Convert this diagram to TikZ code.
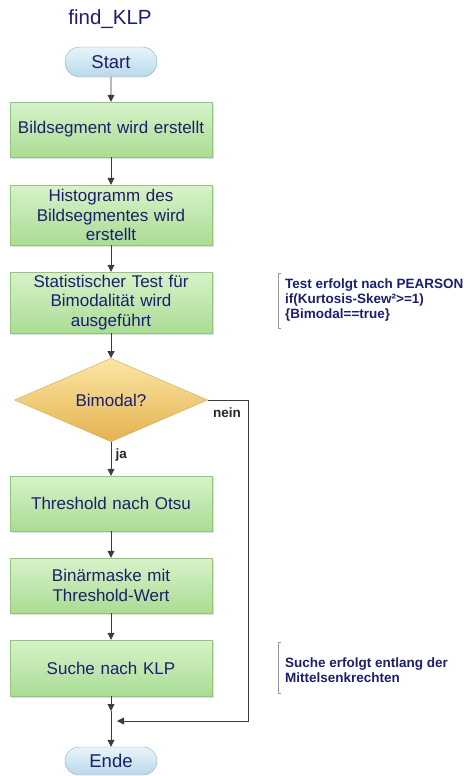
\documentclass[tikz,border=0pt]{standalone}
\usepackage{fontspec}
\setmainfont{Liberation Sans}
\usetikzlibrary{shapes.geometric,shapes.misc,arrows.meta,shadows}
\definecolor{txt}{RGB}{28,30,110}
\definecolor{boxtop}{RGB}{216,242,202}
\definecolor{boxbot}{RGB}{170,220,148}
\definecolor{boxline}{RGB}{145,198,125}
\definecolor{dectop}{RGB}{252,230,165}
\definecolor{decbot}{RGB}{228,178,80}
\definecolor{decline}{RGB}{205,165,80}
\definecolor{termtop}{RGB}{232,245,250}
\definecolor{termbot}{RGB}{185,216,232}
\definecolor{termline}{RGB}{140,170,190}
\definecolor{flow}{RGB}{60,60,60}
\definecolor{brk}{RGB}{150,150,165}
\tikzset{
  procbox/.style={rectangle, draw=boxline, top color=boxtop, bottom color=boxbot,
    minimum width=202pt, text width=196pt, align=center, text=txt,
    font=\fontsize{17}{19.5}\selectfont, inner sep=0pt,
    drop shadow={shadow xshift=1.5pt, shadow yshift=-1.5pt, opacity=0.25}},
  decbox/.style={diamond, draw=decline, top color=dectop, bottom color=decbot,
    minimum width=193pt, minimum height=80pt, inner sep=0pt, text=txt,
    font=\fontsize{17}{19.5}\selectfont},
  termbox/.style={rounded rectangle, draw=termline, top color=termtop, bottom color=termbot,
    minimum width=92pt, inner sep=0pt, text=txt, font=\fontsize{18.5}{21}\selectfont},
  flowline/.style={draw=flow, line width=0.8pt},
  arr/.style={flowline, -{Triangle[width=7pt,length=7pt]}},
  edgelabel/.style={font=\bfseries\fontsize{13.5}{15}\selectfont, text=black!85},
  note/.style={font=\bfseries\fontsize{13.5}{15}\selectfont, text=txt, align=left,
    anchor=north west, inner sep=0pt},
  bracket/.style={draw=brk, line width=0.6pt}
}
\begin{document}
\begin{tikzpicture}[x=1pt,y=-1pt]
\useasboundingbox (0,0) rectangle (470,776);

% title
\node[text=txt, font=\fontsize{20.5}{24}\selectfont] (title) at (110,19) {find\_KLP};

% flow nodes
\node[termbox, minimum height=30pt] (start) at (111,62) {Start};
\node[procbox, minimum height=55pt] (b1) at (111,129.5) {Bildsegment wird erstellt};
\node[procbox, minimum height=60pt] (b2) at (111,215) {Histogramm des\\Bildsegmentes wird\\erstellt};
\node[procbox, minimum height=61pt] (b3) at (111,302.5) {Statistischer Test für\\Bimodalität wird\\ausgeführt};
\node[decbox] (dec) at (111,400) {Bimodal?};
\node[procbox, minimum height=55pt] (b4) at (111,503.5) {Threshold nach Otsu};
\node[procbox, minimum height=55pt] (b5) at (111,585.5) {Binärmaske mit\\Threshold-Wert};
\node[procbox, minimum height=56pt] (b6) at (111,668) {Suche nach KLP};
\node[termbox, minimum height=28pt] (ende) at (111,761) {Ende};

% routing points
\coordinate (m1) at (111,711);
\coordinate (m) at (111,721);
\coordinate (c1) at (248,400);
\coordinate (c2) at (248,721);

% connectors
\draw[arr] (start) -- (b1);
\draw[arr] (b1) -- (b2);
\draw[arr] (b2) -- (b3);
\draw[arr] (b3) -- (dec);
\draw[arr] (dec) -- node[edgelabel, right, pos=0.4, xshift=1pt] {ja} (b4);
\draw[arr] (b4) -- (b5);
\draw[arr] (b5) -- (b6);
\draw[arr] (b6) -- (m1);
\draw[flowline] (m1) -- (m);
\draw[arr] (m) -- (ende);
\draw[arr, shorten >=6pt] (dec.east) -- (c1) -- (c2) -- (m);
\node[edgelabel] (neinlbl) at (227,413) {nein};

% annotations
\draw[bracket] (281,273) -- (278,273) -- (278,328) -- (281,328);
\node[note] (n1) at (285,278.5) {Test erfolgt nach PEARSON\\if(Kurtosis-Skew²>=1)\\\{Bimodal==true\}};
\draw[bracket] (281,642) -- (278,642) -- (278,693) -- (281,693);
\node[note] (n2) at (285,657.5) {Suche erfolgt entlang der\\Mittelsenkrechten};
\end{tikzpicture}
\end{document}
